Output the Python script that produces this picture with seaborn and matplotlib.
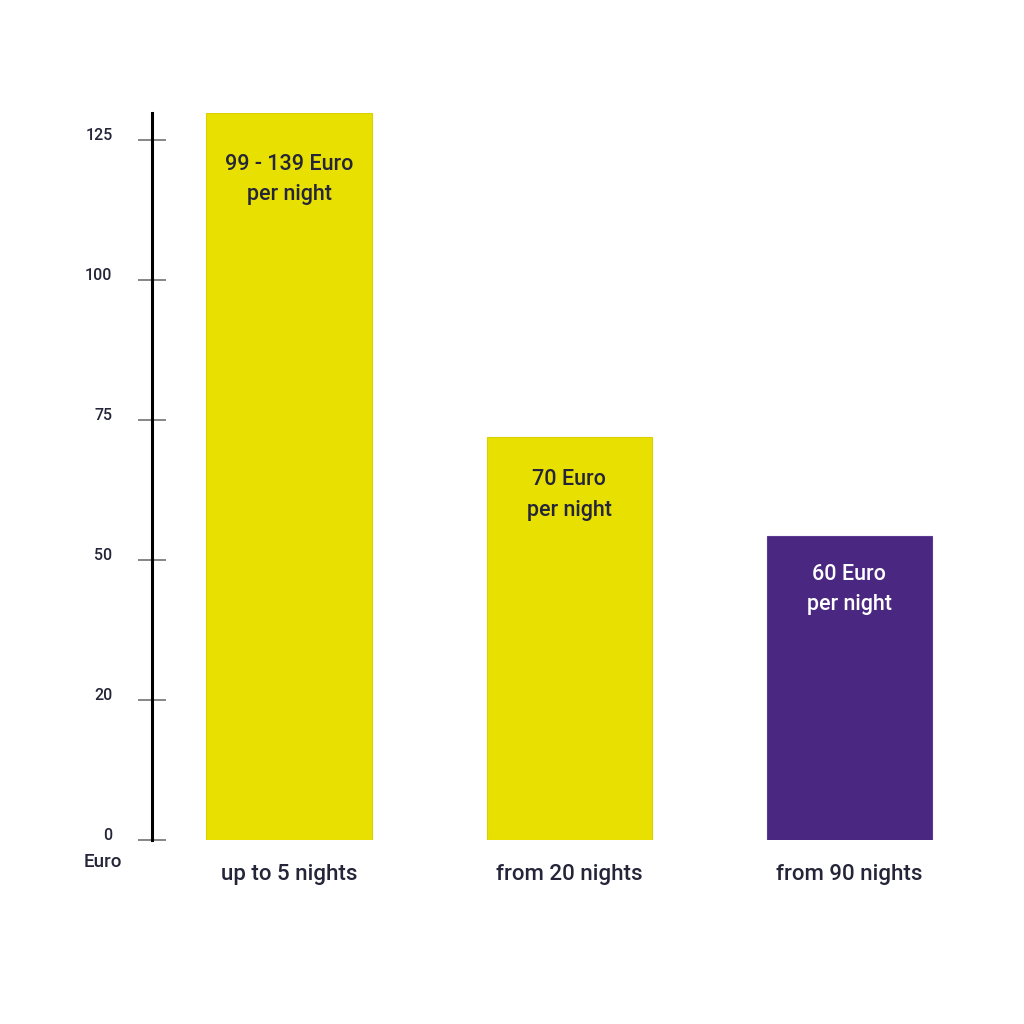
import matplotlib
matplotlib.use("Agg")
import matplotlib.pyplot as plt
import seaborn as sns
import pandas as pd

categories = ["up to 5 nights", "from 20 nights", "from 90 nights"]
values = [129.8, 71.9, 54.3]
bar_labels = ["99 - 139 Euro\nper night", "70 Euro\nper night", "60 Euro\nper night"]
bar_colors = ["#E8E000", "#E8E000", "#4A2882"]
label_colors = ["#25253A", "#25253A", "#FFFFFF"]
tick_values = [0, 25, 50, 75, 100, 125]
tick_labels = ["0", "20", "50", "75", "100", "125"]

# layout: vertical offset (pixels) of the label inside each bar
label_offsets = [-41, -32, -28]

sns.set_theme(style="white")
plt.rcParams["font.family"] = ["Roboto", "DejaVu Sans"]
TXT = "#25253A"
PX = 72 / 100  # points per pixel

df = pd.DataFrame({"cat": categories, "val": values})

fig = plt.figure(figsize=(10.24, 10.24), dpi=100)
ax = fig.add_axes([152 / 1024, 184 / 1024, 848 / 1024, 727 / 1024])

sns.barplot(data=df, x="cat", y="val", hue="cat", palette=bar_colors,
            width=0.59, legend=False, ax=ax, saturation=1, linewidth=0.8)
for p, c in zip(ax.patches, bar_colors):
    p.set_edgecolor("#D8D000" if c == "#E8E000" else "#5A3A92")

ax.set_ylim(0, values[0])
ax.set_xlim(-0.489, 2.5375)

for sp in ["top", "right", "bottom"]:
    ax.spines[sp].set_visible(False)
ax.spines["left"].set_color("black")
ax.spines["left"].set_linewidth(2.2)

ax.set_yticks(tick_values)
ax.set_yticklabels(tick_labels, fontsize=11.5, color=TXT, fontweight="medium")
for lab in ax.get_yticklabels():
    lab.set_verticalalignment("baseline")
ax.tick_params(axis="y", which="major", direction="inout", length=28 * PX,
               width=1.1, color="#666666", pad=25.5 * PX, left=True)
ax.tick_params(axis="x", length=0, pad=17)
ax.set_xticks(range(len(categories)))
ax.set_xticklabels(categories, fontsize=16, color=TXT, fontweight="medium")
ax.set_xlabel("")
ax.set_ylabel("")

for i, (v, t, c, off) in enumerate(zip(values, bar_labels, label_colors, label_offsets)):
    ax.annotate(t, xy=(i, v), xytext=(0, off), textcoords="offset pixels",
                ha="center", va="top", fontsize=15.5, color=c,
                fontweight="medium", linespacing=1.58)

ax.annotate("Euro", xy=(0, 0), xycoords="axes fraction", xytext=(-68, -22),
            textcoords="offset pixels", ha="left", va="center",
            fontsize=13.5, color=TXT, fontweight="medium",
            annotation_clip=False)

fig.savefig("out.png", dpi=100, facecolor="white")
